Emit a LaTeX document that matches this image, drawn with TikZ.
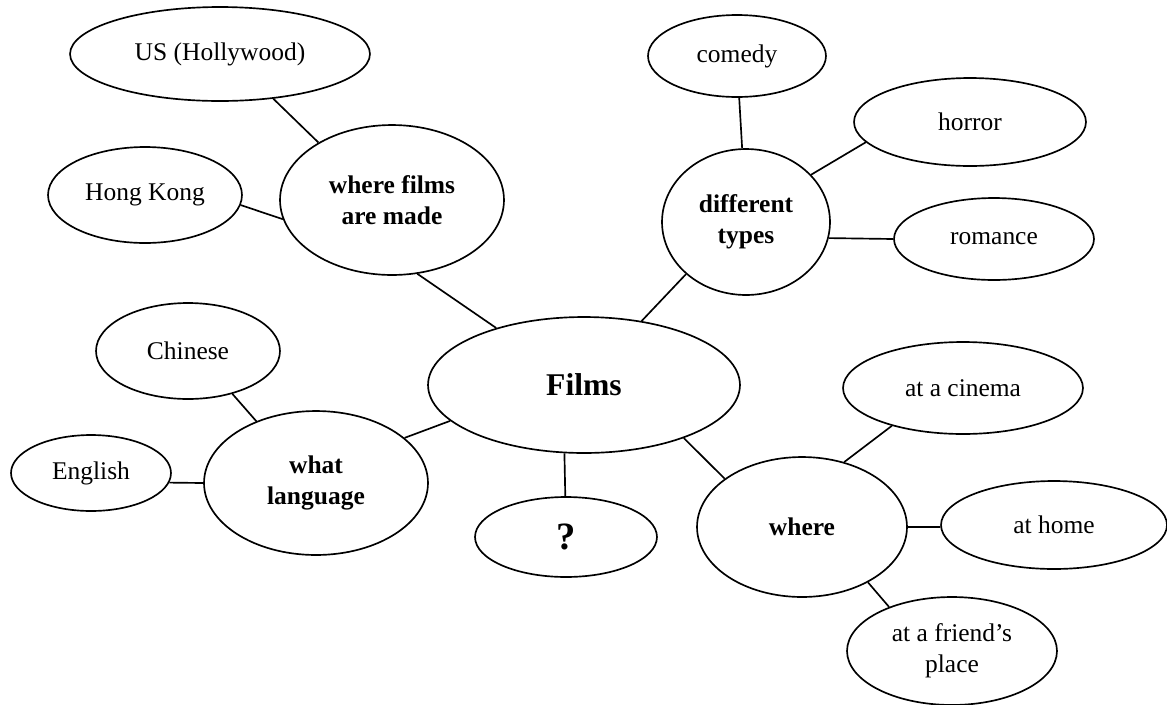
\documentclass[tikz,border=0pt]{standalone}
\usepackage{fontspec}
\setmainfont{Liberation Serif}
\usetikzlibrary{shapes.geometric}

\begin{document}
\begin{tikzpicture}[x=0.02cm, y=-0.02cm, line width=0.95pt,
  oval/.style 2 args={ellipse, draw, inner sep=0pt, align=center,
    minimum width=#1*0.4mm, minimum height=#2*0.4mm,
    font=\fontsize{14.5}{17.5}\selectfont},
  topic/.style={font=\fontsize{14.5}{17.5}\selectfont\bfseries}]
\useasboundingbox (0,0) rectangle (1167,704);
% centre
\node[oval={156}{68}, font=\fontsize{18}{21}\selectfont\bfseries] (films) at (584,385) {Films};
\node[oval={91}{40}, font=\fontsize{22}{25}\selectfont\bfseries] (qmark) at (566,537) {?};
% topics
\node[oval={112}{75}, topic] (made) at (392,200) {where films\\are made};
\node[oval={84}{73}, topic] (types) at (746,222) {different\\types};
\node[oval={112}{72}, topic] (lang) at (316,483) {what\\language};
\node[oval={105}{70}, topic] (where) at (802,527) {where};
% ideas
\node[oval={150}{47}] (us) at (220,54) {US (Hollywood)};
\node[oval={97}{48}] (hk) at (145,195) {Hong Kong};
\node[oval={89}{41}] (comedy) at (737,56) {comedy};
\node[oval={116}{44}] (horror) at (970,122) {horror};
\node[oval={100}{41}] (romance) at (994,239) {romance};
\node[oval={92}{48}] (chinese) at (188,351) {Chinese};
\node[oval={80}{38}] (english) at (91,473) {English};
\node[oval={120}{46}] (cinema) at (963,388) {at a cinema};
\node[oval={113}{44}] (home) at (1054,525) {at home};
\node[oval={105}{54}] (friend) at (952,651) {at a friend’s\\place};
% links
\foreach \a/\b in {us.-40/made.142, hk.-6/made.190, made.-71/films.147,
  comedy.-87/types.93, horror.191/types.36, romance.180/types.-11,
  types.221/films.48, chinese.-44/lang.134, english.-7/lang.180,
  lang.27/films.195, films.-106/qmark.91, films.-28/where.148,
  cinema.208/where.57, home.181/where.0, friend.145/where.-40}{
  \draw (\a) -- (\b);
}
\end{tikzpicture}
\end{document}
